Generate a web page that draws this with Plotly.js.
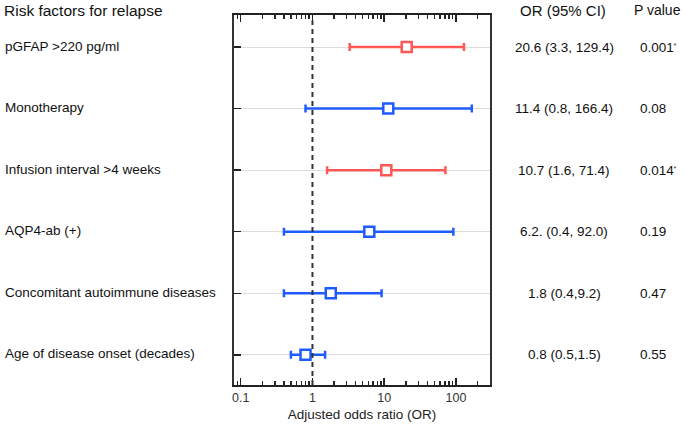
<!DOCTYPE html>
<html>
<head>
<meta charset="utf-8">
<script src="https://cdn.plot.ly/plotly-3.0.1.min.js"></script>
<style>html,body{margin:0;padding:0;background:#fff;}#chart{width:685px;height:429px;}</style>
</head>
<body>
<div id="chart"></div>
<script>
const factors = ["pGFAP >220 pg/ml", "Monotherapy", "Infusion interval >4 weeks", "AQP4-ab (+)", "Concomitant autoimmune diseases", "Age of disease onset (decades)"];
const oddsRatio = [20.6, 11.4, 10.7, 6.2, 1.8, 0.8];
const ciLow = [3.3, 0.8, 1.6, 0.4, 0.4, 0.5];
const ciHigh = [129.4, 166.4, 71.4, 92.0, 9.2, 1.5];
const orText = ["20.6 (3.3, 129.4)", "11.4 (0.8, 166.4)", "10.7 (1.6, 71.4)", "6.2. (0.4, 92.0)", "1.8 (0.4,9.2)", "0.8 (0.5,1.5)"];
const pText = ["0.001*", "0.08", "0.014*", "0.19", "0.47", "0.55"];
const xTickVals = [0.1, 1, 10, 100];
const xTickText = ["0.1", "1", "10", "100"];

const RED = "#ff5656", BLUE = "#1f5cff";
const FONT = "Liberation Sans, Arial, sans-serif";

function makeTrace(sig, color) {
  const idx = factors.map((_, i) => i).filter(i => pText[i].includes("*") === sig);
  return {
    type: "scatter", mode: "markers",
    x: idx.map(i => oddsRatio[i]),
    y: idx.map(i => factors[i]),
    marker: {symbol: "square", size: 10, color: "#ffffff", line: {color: color, width: 2.5}},
    error_x: {type: "data", symmetric: false,
      array: idx.map(i => ciHigh[i] - oddsRatio[i]),
      arrayminus: idx.map(i => oddsRatio[i] - ciLow[i]),
      color: color, thickness: 2.5, width: 4},
    hoverinfo: "skip", showlegend: false, cliponaxis: false
  };
}

const annotations = [];
annotations.push({xref: "paper", yref: "paper", x: -0.906, y: 1.013, xanchor: "left", yanchor: "middle",
  text: "Risk factors for relapse", showarrow: false, font: {family: FONT, size: 15.5, color: "#111"}});
annotations.push({xref: "paper", yref: "paper", x: 1.285, y: 1.013, xanchor: "center", yanchor: "middle",
  text: "OR (95% CI)", showarrow: false, font: {family: FONT, size: 15, color: "#111"}});
annotations.push({xref: "paper", yref: "paper", x: 1.555, y: 1.013, xanchor: "left", yanchor: "middle",
  text: "P value", showarrow: false, font: {family: FONT, size: 14, color: "#111"}});
factors.forEach((f, i) => {
  annotations.push({xref: "paper", yref: "y", x: -0.903, y: f, xanchor: "left", yanchor: "middle", yshift: 1,
    text: f, showarrow: false, font: {family: FONT, size: 13.5, color: "#111"}});
  annotations.push({xref: "paper", yref: "y", x: 1.290, y: f, xanchor: "center", yanchor: "middle",
    text: orText[i], showarrow: false, font: {family: FONT, size: 13.5, color: "#111"}});
  const star = pText[i].includes("*");
  annotations.push({xref: "paper", yref: "y", x: 1.580, y: f, xanchor: "left", yanchor: "middle",
    text: star ? pText[i].replace("*", "<span style='font-size:9px'><sup>*</sup></span>") : pText[i],
    showarrow: false, font: {family: FONT, size: 13.5, color: "#111"}});
});

const layout = {
  width: 685, height: 429,
  margin: {l: 234, r: 195, t: 15, b: 44},
  paper_bgcolor: "#fff", plot_bgcolor: "#fff",
  font: {family: FONT, color: "#222"},
  xaxis: {
    type: "log", range: [-1.094, 2.475],
    tickvals: xTickVals, ticktext: xTickText,
    ticks: "inside", ticklen: 7, tickwidth: 1.5, tickcolor: "#222",
    minor: {ticks: "inside", ticklen: 4, tickwidth: 1.5, tickcolor: "#222", dtick: "D1", showgrid: false},
    showgrid: false, zeroline: false,
    showline: true, linecolor: "#222", linewidth: 2, mirror: "allticks",
    tickfont: {family: FONT, size: 12.5, color: "#333"},
    title: {text: "Adjusted odds ratio (OR)", font: {family: FONT, size: 13.5, color: "#222"}, standoff: 6}
  },
  yaxis: {
    type: "category", categoryarray: factors, categoryorder: "array",
    range: [5.49, -0.52],
    showticklabels: false,
    ticks: "inside", ticklen: 7, tickwidth: 1.5, tickcolor: "#222",
    showgrid: true, gridcolor: "#dddddd", gridwidth: 1,
    zeroline: false,
    showline: true, linecolor: "#333", linewidth: 2, mirror: true
  },
  shapes: [{type: "line", xref: "x", yref: "paper", x0: 1, x1: 1, y0: 0, y1: 0.985,
    line: {color: "#333", width: 2, dash: "5px,4px"}, layer: "above"}],
  annotations: annotations
};

Plotly.newPlot("chart", [makeTrace(false, BLUE), makeTrace(true, RED)], layout, {displayModeBar: false, staticPlot: true});
</script>
</body>
</html>
